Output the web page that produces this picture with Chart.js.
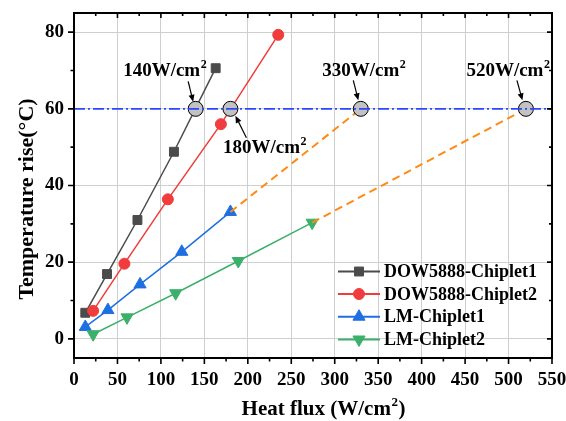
<!DOCTYPE html>
<html>
<head>
<meta charset="utf-8">
<script src="https://cdn.jsdelivr.net/npm/chart.js@4/dist/chart.umd.min.js"></script>
<style>
  html, body { margin: 0; padding: 0; background: #fff; }
  #wrap { width: 566px; height: 421px; }
</style>
</head>
<body>
<div id="wrap"><canvas id="c" width="566" height="421"></canvas></div>
<script>
// ---- measured series: heat flux (W/cm2) vs temperature rise (°C) ----
const seriesNames = ['DOW5888-Chiplet1', 'DOW5888-Chiplet2', 'LM-Chiplet1', 'LM-Chiplet2'];

const dow1Flux = [13, 38, 73, 115, 163];
const dow1Rise = [6.8, 16.9, 31.0, 48.8, 70.6];

const dow2Flux = [22, 58, 108, 169, 235];
const dow2Rise = [7.3, 19.6, 36.4, 56.0, 79.3];

const lm1Flux = [13, 39, 76, 124, 180];
const lm1Rise = [3.1, 7.5, 14.2, 22.7, 33.1];

const lm2Flux = [22, 61, 117, 189, 274];
const lm2Rise = [1.2, 5.6, 11.9, 20.3, 30.3];

// extrapolation of the LM curves up to the 60 °C limit
const lm1ExtFlux = [180, 330];
const lm1ExtRise = [33.1, 60];
const lm2ExtFlux = [274, 520];
const lm2ExtRise = [30.3, 60];

// temperature-rise limit and the flux at which each curve reaches it
const limitRise = 60;
const limitLineFlux = [0, 550];
const limitFlux = [140, 180, 330, 520];

const xTicks = [0, 50, 100, 150, 200, 250, 300, 350, 400, 450, 500, 550];
const yTicks = [0, 20, 40, 60, 80];

const SERIF = '"Liberation Serif", "Times New Roman", serif';
const pts = (xs, ys) => xs.map((x, i) => ({ x: x, y: ys[i] }));

const colors = {
  dow1: '#4b4b4b',
  dow2: '#f03c3c',
  lm1: '#1d6fe2',
  lm2: '#3bb06b',
  ext: '#ff8a14',
  limit: '#2d47ff',
  mark: '#c2c2c2'
};

// label / arrow placement around each limit marker (pixel offsets)
const notePlacement = [
  { tx: -31, ty: -33, a: [-7.5, -27.5, -2.5, -7] },
  { tx: 34, ty: 44, a: [16, 29, 5, 7] },
  { tx: 3, ty: -33, a: [-7.5, -28.5, -2.5, -8.5] },
  { tx: -18, ty: -33, a: [-9, -28.5, -3.5, -8.5] }
];

function drawSup(ctx, base, sup, tail, cx, baseY, size) {
  const big = 'bold ' + size + 'px ' + SERIF;
  const small = 'bold ' + Math.round(size * 0.62) + 'px ' + SERIF;
  ctx.font = big;
  const wb = ctx.measureText(base).width;
  const wt = tail ? ctx.measureText(tail).width : 0;
  ctx.font = small;
  const ws = ctx.measureText(sup).width;
  let x = cx - (wb + ws + wt) / 2;
  ctx.textAlign = 'left';
  ctx.textBaseline = 'alphabetic';
  ctx.font = big;
  ctx.fillText(base, x, baseY);
  x += wb;
  ctx.font = small;
  ctx.fillText(sup, x + 0.5, baseY - size * 0.42);
  x += ws + 1;
  if (tail) {
    ctx.font = big;
    ctx.fillText(tail, x, baseY);
  }
}

function arrow(ctx, x1, y1, x2, y2) {
  const ang = Math.atan2(y2 - y1, x2 - x1);
  const hl = 7, hw = 3;
  ctx.strokeStyle = '#000';
  ctx.fillStyle = '#000';
  ctx.lineWidth = 1.2;
  ctx.beginPath();
  ctx.moveTo(x1, y1);
  ctx.lineTo(x2 - Math.cos(ang) * hl * 0.8, y2 - Math.sin(ang) * hl * 0.8);
  ctx.stroke();
  ctx.beginPath();
  ctx.moveTo(x2, y2);
  ctx.lineTo(x2 - Math.cos(ang) * hl + Math.sin(ang) * hw, y2 - Math.sin(ang) * hl - Math.cos(ang) * hw);
  ctx.lineTo(x2 - Math.cos(ang) * hl - Math.sin(ang) * hw, y2 - Math.sin(ang) * hl + Math.cos(ang) * hw);
  ctx.closePath();
  ctx.fill();
}

const decorations = {
  id: 'decorations',
  afterDraw(chart) {
    const ctx = chart.ctx;
    const area = chart.chartArea;
    const xs = chart.scales.x, ys = chart.scales.y;
    ctx.save();

    // frame
    ctx.strokeStyle = '#000';
    ctx.lineWidth = 2;
    ctx.strokeRect(area.left, area.top, area.right - area.left, area.bottom - area.top);

    // ticks: outward on bottom/left, inward on top/right
    ctx.lineWidth = 1.6;
    ctx.beginPath();
    for (let v = 0; v <= 550; v += 25) {
      const px = xs.getPixelForValue(v);
      const major = v % 50 === 0;
      ctx.moveTo(px, area.bottom); ctx.lineTo(px, area.bottom + (major ? 6 : 3.5));
      ctx.moveTo(px, area.top); ctx.lineTo(px, area.top + (major ? 5 : 3));
    }
    for (let v = 0; v <= 80; v += 10) {
      const py = ys.getPixelForValue(v);
      const major = v % 20 === 0;
      ctx.moveTo(area.left, py); ctx.lineTo(area.left - (major ? 6 : 3.5), py);
      ctx.moveTo(area.right, py); ctx.lineTo(area.right - (major ? 5 : 3), py);
    }
    ctx.stroke();

    // axis titles
    ctx.fillStyle = '#000';
    drawSup(ctx, 'Heat flux (W/cm', '2', ')', 323, 415, 21);
    ctx.save();
    ctx.translate(33, 199);
    ctx.rotate(-Math.PI / 2);
    ctx.font = 'bold 22px ' + SERIF;
    ctx.textAlign = 'center';
    ctx.textBaseline = 'alphabetic';
    ctx.fillText('Temperature rise(°C)', 0, 0);
    ctx.restore();

    // limit annotations
    limitFlux.forEach((f, i) => {
      const cx = xs.getPixelForValue(f);
      const cy = ys.getPixelForValue(limitRise);
      const p = notePlacement[i];
      ctx.fillStyle = '#000';
      drawSup(ctx, f + 'W/cm', '2', '', cx + p.tx, cy + p.ty, 19);
      arrow(ctx, cx + p.a[0], cy + p.a[1], cx + p.a[2], cy + p.a[3]);
    });

    // legend
    const legendDs = [7, 6, 5, 4];
    const rowsY = [271.5, 294, 316.7, 339.5];
    legendDs.forEach((di, i) => {
      const ds = chart.data.datasets[di];
      const y = rowsY[i];
      ctx.strokeStyle = ds.borderColor;
      ctx.lineWidth = 2;
      ctx.beginPath();
      ctx.moveTo(338, y); ctx.lineTo(380, y);
      ctx.stroke();
      ctx.fillStyle = ds.pointBackgroundColor;
      ctx.strokeStyle = ds.pointBackgroundColor;
      ctx.lineWidth = 1;
      Chart.helpers.drawPoint(ctx, {
        pointStyle: ds.pointStyle,
        rotation: ds.pointRotation || 0,
        radius: ds.pointRadius,
        borderWidth: 1
      }, 359, y);
      ctx.fillStyle = '#000';
      ctx.font = 'bold 18px ' + SERIF;
      ctx.textAlign = 'left';
      ctx.textBaseline = 'middle';
      ctx.fillText(ds.label, 384, y + 1);
    });

    ctx.restore();
  }
};

const lineSeries = (label, xs, ys, color, style, radius, rot) => ({
  label: label,
  data: pts(xs, ys),
  showLine: true,
  borderColor: color,
  borderWidth: 1.5,
  pointStyle: style,
  pointRotation: rot || 0,
  pointRadius: radius,
  pointBackgroundColor: color,
  pointBorderColor: color,
  pointBorderWidth: 1
});

// keep the plot box fixed: no extra room reserved for edge tick labels
const noEdgePadding = (s) => {
  s.paddingLeft = 0; s.paddingRight = 0; s.paddingTop = 0; s.paddingBottom = 0;
};

new Chart(document.getElementById('c'), {
  type: 'scatter',
  data: {
    datasets: [
      {
        label: 'limit',
        data: pts(limitLineFlux, limitLineFlux.map(() => limitRise)),
        showLine: true,
        borderColor: colors.limit,
        borderWidth: 1.6,
        borderDash: [11, 3, 2, 3],
        pointRadius: 0,
        order: 0
      },
      {
        label: 'limit points',
        data: pts(limitFlux, limitFlux.map(() => limitRise)),
        showLine: false,
        pointStyle: 'circle',
        pointRadius: 7.5,
        pointBackgroundColor: colors.mark,
        pointBorderColor: '#000',
        pointBorderWidth: 1,
        order: 1
      },
      {
        label: 'ext1',
        data: pts(lm1ExtFlux, lm1ExtRise),
        showLine: true,
        borderColor: colors.ext,
        borderWidth: 2,
        borderDash: [8, 5],
        pointRadius: 0,
        order: 2
      },
      {
        label: 'ext2',
        data: pts(lm2ExtFlux, lm2ExtRise),
        showLine: true,
        borderColor: colors.ext,
        borderWidth: 2,
        borderDash: [8, 5],
        pointRadius: 0,
        order: 3
      },
      Object.assign(lineSeries(seriesNames[3], lm2Flux, lm2Rise, colors.lm2, 'triangle', 7, 180), { order: 4 }),
      Object.assign(lineSeries(seriesNames[2], lm1Flux, lm1Rise, colors.lm1, 'triangle', 7, 0), { order: 5 }),
      Object.assign(lineSeries(seriesNames[1], dow2Flux, dow2Rise, colors.dow2, 'circle', 5.5, 0), { order: 6 }),
      Object.assign(lineSeries(seriesNames[0], dow1Flux, dow1Rise, colors.dow1, 'rect', 6.3, 0), { order: 7 })
    ]
  },
  options: {
    responsive: false,
    animation: false,
    devicePixelRatio: 1,
    layout: { padding: { left: 0, top: 13, right: 14, bottom: 0 } },
    plugins: { legend: { display: false }, tooltip: { enabled: false } },
    scales: {
      x: {
        type: 'linear',
        min: 0, max: 550,
        afterBuildTicks: (s) => { s.ticks = xTicks.map(v => ({ value: v })); },
        afterFit: (s) => { s.height = 63; noEdgePadding(s); },
        grid: { color: '#cfcfcf', lineWidth: 1, borderDash: [1, 2], drawTicks: false },
        border: { display: false },
        ticks: { padding: 11, color: '#000', font: { family: SERIF, size: 19, weight: 'bold' }, maxRotation: 0, autoSkip: false }
      },
      y: {
        type: 'linear',
        min: -5, max: 85,
        afterBuildTicks: (s) => { s.ticks = yTicks.map(v => ({ value: v })); },
        afterFit: (s) => { s.width = 74; noEdgePadding(s); },
        grid: { color: '#cfcfcf', lineWidth: 1, borderDash: [1, 2], drawTicks: false },
        border: { display: false },
        ticks: { padding: 10, color: '#000', font: { family: SERIF, size: 19, weight: 'bold' } }
      }
    }
  },
  plugins: [decorations]
});
</script>
</body>
</html>
